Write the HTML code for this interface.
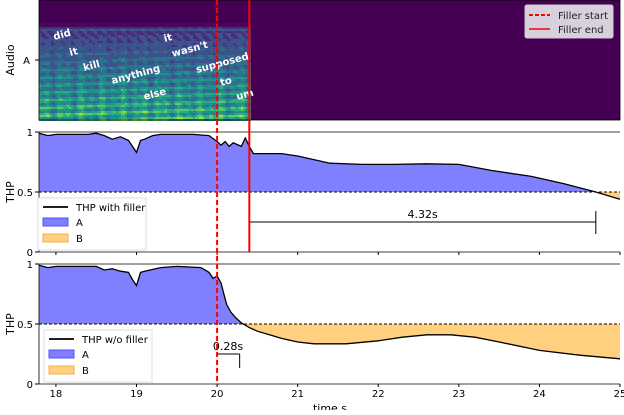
<!DOCTYPE html>
<html><head><meta charset="utf-8"><style>
body{margin:0;background:#fff;width:624px;height:410px;overflow:hidden}
svg{font-family:"DejaVu Sans","Liberation Sans",sans-serif}
</style></head><body>
<svg id="c" width="624" height="410" xmlns="http://www.w3.org/2000/svg"></svg>
<script>
// data
const xTicks=[18,19,20,21,22,23,24,25];
const fillerStart=20.0, fillerEnd=20.4;
const withT=[17.79,17.9,18.0,18.2,18.4,18.5,18.6,18.7,18.8,18.9,18.95,19.0,19.05,19.1,19.2,19.3,19.5,19.7,19.9,20.0,20.05,20.1,20.15,20.2,20.3,20.35,20.4,20.45,20.6,20.8,21.0,21.4,21.8,22.2,22.6,23.0,23.4,23.9,24.3,24.7,25.0];
const withV=[0.99,0.97,0.98,0.98,0.98,0.99,0.97,0.94,0.96,0.93,0.88,0.83,0.93,0.94,0.97,0.98,0.98,0.98,0.97,0.92,0.89,0.92,0.88,0.91,0.88,0.95,0.88,0.82,0.82,0.82,0.8,0.74,0.73,0.73,0.735,0.73,0.68,0.63,0.57,0.5,0.44];
const woT=[17.79,17.9,18.0,18.3,18.5,18.6,18.7,18.8,18.9,18.95,19.0,19.05,19.1,19.3,19.5,19.8,19.9,19.95,20.0,20.05,20.08,20.12,20.17,20.22,20.3,20.4,20.5,20.65,20.8,21.0,21.2,21.6,22.0,22.3,22.6,22.9,23.2,23.5,24.0,24.5,25.0];
const woV=[0.99,0.97,0.98,0.98,0.98,0.95,0.96,0.94,0.93,0.87,0.82,0.93,0.94,0.97,0.98,0.97,0.93,0.88,0.9,0.84,0.76,0.66,0.6,0.56,0.51,0.47,0.44,0.41,0.38,0.35,0.335,0.335,0.36,0.39,0.41,0.41,0.39,0.35,0.28,0.24,0.21];
const words=["did","it","kill","anything","else","it","wasn't","supposed","to","um"];
const wordT=[17.98,18.18,18.35,18.7,19.1,19.35,19.45,19.75,20.05,20.25];
const wordY=[40,56,71,84,100,42,57,73,86,100];
// layout
const X0=39,X1=620,T0=17.79,T1=25;
const sx=t=>X0+(t-T0)/(T1-T0)*(X1-X0);
const panels=[{top:132,bot:252},{top:264,bot:384}];
const sy=(p,v)=>p.bot-v*(p.bot-p.top);
const svg=document.getElementById('c');const NS='http://www.w3.org/2000/svg';
function el(tag,attrs,parent,txt){const e=document.createElementNS(NS,tag);for(const k in attrs)e.setAttribute(k,attrs[k]);if(txt!=null)e.textContent=txt;(parent||svg).appendChild(e);return e;}
// top panel
const g0=el('g',{});


el('rect',{x:X0,y:0,width:X1-X0,height:120,fill:'#440154'},g0);
const spec=el('g',{},g0);


const cols=['#46085c','#472d7b','#3b528b','#2c728e','#21918c','#28ae80','#5ec962','#addc30'];
const xe=sx(fillerEnd);
for(let x=X0;x<xe;x+=2){
 const cv=0.5+0.5*Math.sin(x*0.45)*Math.sin(x*0.13+1);
 for(let y=23;y<120;y+=2){
 const fy=(y-23)/97;
 const harm=Math.pow(Math.abs(Math.sin(y*0.42+x*0.015)),3);
 let lv=1.2+fy*1.8+cv*2.2*fy+harm*fy*2.5+((x*7+y*13)%5)*0.15;
 if(y<27)lv-=1.5;
 if(y>=29&&y<31)lv+=1;
 lv=Math.max(0,Math.min(7,Math.floor(lv)));
 el('rect',{x:x,y:y,width:2,height:2,fill:cols[lv]},spec);}}
words.forEach((w,i)=>{const t=el('text',{x:sx(wordT[i]),y:wordY[i],fill:'#fff','font-size':10,'font-weight':'bold',transform:`rotate(-15 ${sx(wordT[i])} ${wordY[i]})`},g0,w);

});
el('rect',{x:X0,y:0,width:X1-X0,height:120,fill:'none',stroke:'#000','stroke-width':0.8},g0);
el('line',{x1:35,x2:X0,y1:60,y2:60,stroke:'#000'},g0);
el('text',{x:30,y:64,'font-size':10,'text-anchor':'end'},g0,'A');
el('text',{x:0,y:0,'font-size':11,'text-anchor':'middle',transform:'translate(14,60) rotate(-90)'},g0,'Audio');
// legend top
const lg=el('g',{});


el('rect',{x:525,y:5,width:88,height:33,fill:'#d8d0dc',stroke:'#ccc',rx:2},lg);
el('line',{x1:529,x2:550,y1:15,y2:15,stroke:'red','stroke-width':2,'stroke-dasharray':'4,2'},lg);
el('text',{x:558,y:19,'font-size':10,fill:'#222'},lg,'Filler start');
el('line',{x1:529,x2:550,y1:29,y2:29,stroke:'red','stroke-width':1.5},lg);
el('text',{x:558,y:33,'font-size':10,fill:'#222'},lg,'Filler end');
function thpPanel(p,T,V,name,legText,legX,legY){
 const g=el('g',{});
 
 
 const y5=sy(p,0.5);
 const id=name+'c';const d=el('defs',{},g);
 const ca=el('clipPath',{id:id+'a'},d);el('rect',{x:X0,y:p.top-5,width:X1-X0,height:y5-p.top+5},ca);
 const cb=el('clipPath',{id:id+'b'},d);el('rect',{x:X0,y:y5,width:X1-X0,height:p.bot-y5},cb);
 let pts=T.map((t,i)=>sx(t)+','+sy(p,V[i])).join(' ');
 const poly=X0+','+y5+' '+pts+' '+X1+','+y5;
 el('polygon',{points:poly,fill:'#8080ff','clip-path':`url(#${id}a)`},g);
 el('polygon',{points:poly,fill:'#ffd080','clip-path':`url(#${id}b)`},g);
 el('line',{x1:X0,x2:X1,y1:y5,y2:y5,stroke:'#000','stroke-dasharray':'3,2','stroke-width':0.9},g);
 el('polyline',{points:pts,fill:'none',stroke:'#000','stroke-width':1.3},g);
 el('line',{x1:X0,x2:X1,y1:p.top,y2:p.top,stroke:'#000','stroke-width':0.8},g);
 el('line',{x1:X0,x2:X1,y1:p.bot,y2:p.bot,stroke:'#000','stroke-width':0.8},g);
 el('line',{x1:X0,x2:X0,y1:p.top,y2:p.bot,stroke:'#000','stroke-width':0.8},g);
 [[1,'1'],[0.5,'0.5'],[0,'0']].forEach(([v,l])=>{el('line',{x1:35,x2:X0,y1:sy(p,v),y2:sy(p,v),stroke:'#000'},g);el('text',{x:33,y:sy(p,v)+4,'font-size':10,'text-anchor':'end'},g,l);});
 xTicks.forEach(t=>el('line',{x1:sx(t),x2:sx(t),y1:p.bot,y2:p.bot+3,stroke:'#000'},g));
 el('text',{x:0,y:0,'font-size':11,'text-anchor':'middle',transform:`translate(14,${(p.top+p.bot)/2}) rotate(-90)`},g,'THP');
 const L=el('g',{},g);
 
 
 el('rect',{x:legX,y:legY,width:108,height:52,fill:'#fff',stroke:'#ddd'},L);
 el('line',{x1:legX+5,x2:legX+30,y1:legY+9,y2:legY+9,stroke:'#000','stroke-width':1.8},L);
 el('text',{x:legX+38,y:legY+13,'font-size':10},L,legText);
 el('rect',{x:legX+5,y:legY+20,width:25,height:8,fill:'#8080ff',stroke:'#5050ff'},L);
 el('text',{x:legX+38,y:legY+28,'font-size':10},L,'A');
 el('rect',{x:legX+5,y:legY+36,width:25,height:8,fill:'#ffd080',stroke:'#f0b050'},L);
 el('text',{x:legX+38,y:legY+44,'font-size':10},L,'B');
 return g;
}
thpPanel(panels[0],withT,withV,'thp-with-filler-panel','THP with filler',38,198);
thpPanel(panels[1],woT,woV,'thp-without-filler-panel','THP w/o filler',44,330);
// annotations
const a=el('g',{});


el('line',{x1:sx(fillerEnd),x2:sx(24.7),y1:222,y2:222,stroke:'#000'},a);
el('line',{x1:sx(24.7),x2:sx(24.7),y1:211,y2:234,stroke:'#000'},a);
el('text',{x:(sx(fillerEnd)+sx(24.7))/2,y:218,'font-size':11,'text-anchor':'middle'},a,'4.32s');
el('line',{x1:sx(fillerStart),x2:sx(20.28),y1:354,y2:354,stroke:'#000'},a);
el('line',{x1:sx(20.28),x2:sx(20.28),y1:354,y2:368,stroke:'#000'},a);
el('text',{x:228,y:350,'font-size':11,'text-anchor':'middle'},a,'0.28s');
// filler lines
const fl=el('g',{});


el('line',{x1:sx(fillerStart),x2:sx(fillerStart),y1:0,y2:384,stroke:'red','stroke-width':2,'stroke-dasharray':'5,3'},fl);
el('line',{x1:sx(fillerEnd),x2:sx(fillerEnd),y1:0,y2:252,stroke:'red','stroke-width':2},fl);
// x labels
xTicks.forEach(t=>{const tx=el('text',{x:sx(t),y:397,'font-size':10,'text-anchor':'middle'},null,String(t));});
const xt=el('text',{x:330,y:412,'font-size':11,'text-anchor':'middle'},null,'time s');


</script>
</body></html>
